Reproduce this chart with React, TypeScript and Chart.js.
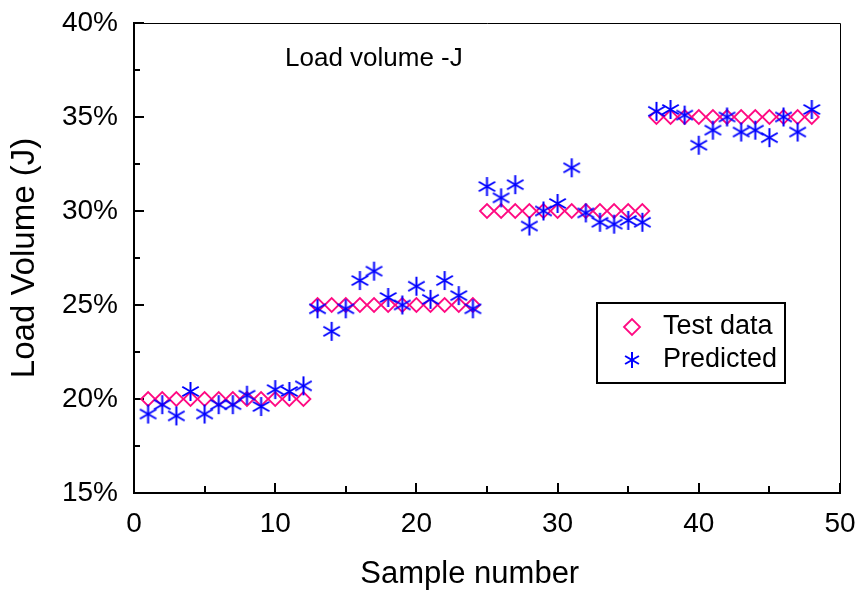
import { useEffect, useRef } from 'react';
import { Chart, registerables } from 'chart.js';

Chart.register(...registerables);

const FONT = "'Liberation Sans', Arial, sans-serif";
const PINK = '#ff0a82';
const BLUE = '#0000ff';

// Sample index along the x axis
const sampleNumbers = [
  1, 2, 3, 4, 5, 6, 7, 8, 9, 10, 11, 12,
  13, 14, 15, 16, 17, 18, 19, 20, 21, 22, 23, 24,
  25, 26, 27, 28, 29, 30, 31, 32, 33, 34, 35, 36,
  37, 38, 39, 40, 41, 42, 43, 44, 45, 46, 47, 48,
];

// Measured load volume (%)
const testData = [
  20, 20, 20, 20, 20, 20, 20, 20, 20, 20, 20, 20,
  25, 25, 25, 25, 25, 25, 25, 25, 25, 25, 25, 25,
  30, 30, 30, 30, 30, 30, 30, 30, 30, 30, 30, 30,
  35, 35, 35, 35, 35, 35, 35, 35, 35, 35, 35, 35,
];

// Model prediction (%)
const predicted = [
  19.2, 19.7, 19.1, 20.4, 19.2, 19.7, 19.7, 20.2, 19.6, 20.5, 20.4, 20.7,
  24.8, 23.6, 24.8, 26.3, 26.8, 25.4, 25.0, 26.0, 25.3, 26.3, 25.5, 24.8,
  31.3, 30.7, 31.4, 29.2, 30.0, 30.4, 32.3, 29.9, 29.4, 29.3, 29.5, 29.4,
  35.3, 35.4, 35.1, 33.5, 34.3, 35.0, 34.2, 34.3, 33.9, 35.0, 34.2, 35.4,
];

const seriesLabels = ['Test data', 'Predicted'];
const annotationText = 'Load volume -J';

function asteriskImage(r: number, lw: number, color: string) {
  const size = Math.ceil(2 * r + 2 * lw);
  const c = document.createElement('canvas');
  c.width = size;
  c.height = size;
  const g = c.getContext('2d')!;
  g.strokeStyle = color;
  g.lineWidth = lw;
  const cx = size / 2;
  for (const deg of [90, 30, 150]) {
    const a = (deg * Math.PI) / 180;
    g.beginPath();
    g.moveTo(cx - r * Math.cos(a), cx - r * Math.sin(a));
    g.lineTo(cx + r * Math.cos(a), cx + r * Math.sin(a));
    g.stroke();
  }
  return c;
}

function diamond(ctx: CanvasRenderingContext2D, x: number, y: number, r: number) {
  ctx.beginPath();
  ctx.moveTo(x - r, y);
  ctx.lineTo(x, y - r);
  ctx.lineTo(x + r, y);
  ctx.lineTo(x, y + r);
  ctx.closePath();
  ctx.stroke();
}

export default function App() {
  const canvasRef = useRef<HTMLCanvasElement>(null);

  useEffect(() => {
    const star = asteriskImage(9.5, 2, BLUE);
    const legendStar = asteriskImage(8, 2, BLUE);

    // Inward tick marks plus thin top/right frame lines
    const framePlugin = {
      id: 'frameTicks',
      beforeDatasetsDraw(chart: any) {
        const { ctx, chartArea: a, scales } = chart;
        const xs = scales.x;
        const ys = scales.y;
        ctx.save();
        ctx.strokeStyle = '#000';
        ctx.lineWidth = 1;
        ctx.beginPath();
        ctx.moveTo(a.left, a.top + 0.5);
        ctx.lineTo(a.right + 0.5, a.top + 0.5);
        ctx.lineTo(a.right + 0.5, a.bottom);
        ctx.stroke();
        ctx.lineWidth = 2;
        ctx.beginPath();
        for (let v = xs.min; v <= xs.max; v += 5) {
          const px = Math.round(xs.getPixelForValue(v));
          const len = v % 10 === 0 ? 10 : 7;
          ctx.moveTo(px, a.bottom);
          ctx.lineTo(px, a.bottom - len);
        }
        for (let v = ys.min; v <= ys.max; v += 2.5) {
          const py = Math.round(ys.getPixelForValue(v));
          const len = v % 5 === 0 ? 10 : 6;
          ctx.moveTo(a.left, py);
          ctx.lineTo(a.left + len, py);
        }
        ctx.stroke();
        ctx.restore();
      },
      afterDraw(chart: any) {
        const { ctx } = chart;
        ctx.save();
        ctx.fillStyle = '#000';
        ctx.textBaseline = 'alphabetic';
        ctx.font = `26px ${FONT}`;
        ctx.fillText(annotationText, 285, 66);

        // legend box
        ctx.strokeStyle = '#000';
        ctx.lineWidth = 2;
        ctx.strokeRect(597, 303, 188, 80);
        ctx.strokeStyle = PINK;
        ctx.lineWidth = 1.8;
        diamond(ctx, 632, 327, 8);
        ctx.drawImage(legendStar, 632 - legendStar.width / 2, 360 - legendStar.height / 2);
        ctx.fillStyle = '#000';
        ctx.font = `27px ${FONT}`;
        ctx.textBaseline = 'middle';
        ctx.fillText(seriesLabels[0], 663, 327);
        ctx.fillText(seriesLabels[1], 663, 360);
        ctx.restore();
      },
    };

    const chart = new Chart(canvasRef.current!, {
      type: 'scatter',
      data: {
        datasets: [
          {
            label: seriesLabels[0],
            data: sampleNumbers.map((x, i) => ({ x, y: testData[i] })),
            pointStyle: 'rectRot',
            pointRadius: 7,
            pointBorderWidth: 1.8,
            pointBorderColor: PINK,
            pointBackgroundColor: 'rgba(0,0,0,0)',
            order: 1,
          },
          {
            label: seriesLabels[1],
            data: sampleNumbers.map((x, i) => ({ x, y: predicted[i] })),
            pointStyle: star,
            pointRadius: 9,
            pointBorderColor: BLUE,
            pointBackgroundColor: BLUE,
            order: 0,
          },
        ],
      },
      options: {
        animation: false,
        responsive: false,
        devicePixelRatio: 1,
        layout: { padding: { left: 0, right: 20, top: 23, bottom: 0 } },
        plugins: {
          legend: { display: false },
          tooltip: { enabled: false },
        },
        scales: {
          x: {
            type: 'linear',
            min: 0,
            max: 50,
            grid: { display: false, drawTicks: false },
            border: { display: true, color: '#000', width: 2 },
            ticks: {
              stepSize: 10,
              padding: 14,
              color: '#000',
              font: { family: FONT, size: 28 },
            },
            title: {
              display: true,
              text: 'Sample number    ',
              color: '#000',
              font: { family: FONT, size: 31 },
              padding: { top: 0, bottom: 0 },
            },
            afterFit(scale: any) {
              scale.height = 100;
              scale.paddingLeft = 0;
              scale.paddingRight = 0;
            },
          },
          y: {
            type: 'linear',
            min: 15,
            max: 40,
            grid: { display: false, drawTicks: false },
            border: { display: true, color: '#000', width: 2 },
            ticks: {
              stepSize: 5,
              padding: 16,
              color: '#000',
              font: { family: FONT, size: 28 },
              callback: (v: any) => `${v}%`,
            },
            title: {
              display: true,
              text: 'Load Volume (J)',
              color: '#000',
              font: { family: FONT, size: 33 },
              padding: { top: 5, bottom: 0 },
            },
            afterFit(scale: any) {
              scale.width = 134;
              scale.paddingTop = 0;
              scale.paddingBottom = 0;
            },
          },
        },
      },
      plugins: [framePlugin],
    });

    return () => chart.destroy();
  }, []);

  return (
    <div style={{ position: 'fixed', left: 0, top: 0, width: 860, height: 593, background: '#fff' }}>
      <canvas ref={canvasRef} width={860} height={593} />
    </div>
  );
}
